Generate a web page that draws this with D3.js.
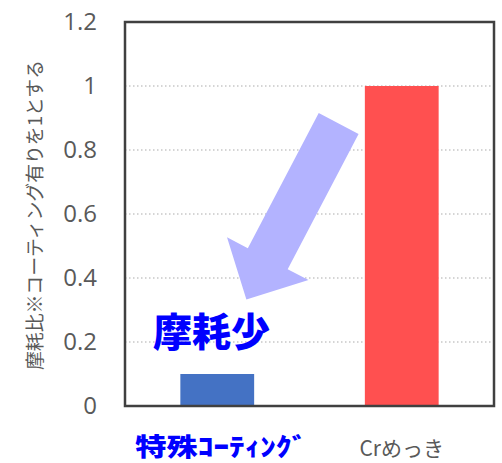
<!DOCTYPE html>
<html>
<head>
<meta charset="utf-8">
<script src="https://cdn.jsdelivr.net/npm/d3@7"></script>
<style>
  body { margin: 0; background: #fff; }
  svg { display: block; }
</style>
</head>
<body>
<main></main>
<script>
const width = 502;
const height = 463;
const margin = {top: 22, right: 8, bottom: 57, left: 125};

// data
const categories = ['特殊ｺｰﾃｨﾝｸﾞ', 'Crめっき'];
const values = [0.1, 1.0];
const barColors = ['#4472C4', '#FF5050'];
const yTicks = [0, 0.2, 0.4, 0.6, 0.8, 1, 1.2];
const yTitle = '摩耗比※コーティング有りを1とする';
const note = '摩耗少';

const jp = '"Noto Sans CJK JP", "Noto Sans", sans-serif';
const num = '"Open Sans", "Noto Sans", sans-serif';

const svg = d3.select('main').append('svg')
  .attr('width', width)
  .attr('height', height);

const x = d3.scaleBand()
  .domain(categories)
  .range([margin.left, width - margin.right])
  .paddingInner(0.6)
  .paddingOuter(0.3);

const y = d3.scaleLinear()
  .domain([0, 1.2])
  .range([height - margin.bottom, margin.top]);

// gridlines (dotted)
svg.append('g')
  .selectAll('line')
  .data(yTicks.filter(d => d > 0 && d < 1.2))
  .enter().append('line')
  .attr('x1', margin.left)
  .attr('x2', width - margin.right)
  .attr('y1', d => y(d))
  .attr('y2', d => y(d))
  .style('stroke', '#c8c8c8')
  .style('stroke-width', 1.5)
  .style('stroke-dasharray', '1.5,2.5');

// bars
svg.append('g')
  .selectAll('rect')
  .data(categories)
  .enter().append('rect')
  .attr('x', d => x(d))
  .attr('width', x.bandwidth())
  .attr('y', (d, i) => y(values[i]))
  .attr('height', (d, i) => y(0) - y(values[i]))
  .style('fill', (d, i) => barColors[i]);

// frame
svg.append('rect')
  .attr('x', margin.left)
  .attr('y', margin.top)
  .attr('width', width - margin.left - margin.right)
  .attr('height', height - margin.top - margin.bottom)
  .style('fill', 'none')
  .style('stroke', '#404040')
  .style('stroke-width', 2.5);

// y axis labels
const yAxis = d3.axisLeft(y)
  .tickValues(yTicks)
  .tickFormat(d => String(d))
  .tickSize(0)
  .tickPadding(28);

svg.append('g')
  .attr('transform', `translate(${margin.left},0)`)
  .call(yAxis)
  .call(g => g.select('.domain').remove())
  .call(g => g.selectAll('text')
    .style('font-family', num)
    .style('font-size', '24px')
    .style('fill', '#595959'));

// y title
svg.append('text')
  .attr('transform', `translate(33,${(y(0) + y(1.2)) / 2 + 1}) rotate(-90)`)
  .attr('text-anchor', 'middle')
  .attr('dominant-baseline', 'central')
  .style('font-family', jp)
  .style('font-size', '19px')
  .style('fill', '#595959')
  .attr('textLength', 310)
  .attr('lengthAdjust', 'spacingAndGlyphs')
  .text(yTitle);

// x labels
svg.append('g')
  .selectAll('text')
  .data(categories)
  .enter().append('text')
  .attr('x', (d, i) => x(d) + x.bandwidth() / 2 + (i === 0 ? 4 : 0))
  .attr('y', 456)
  .attr('text-anchor', 'middle')
  .style('font-family', jp)
  .style('font-size', (d, i) => i === 0 ? '25px' : '21px')
  .style('font-weight', (d, i) => i === 0 ? 900 : 400)
  .style('fill', (d, i) => i === 0 ? '#0000FF' : '#595959')
  .attr('textLength', (d, i) => i === 0 ? 172 : null)
  .attr('lengthAdjust', 'spacingAndGlyphs')
  .text(d => d);

// arrow annotation: from near the Cr bar down toward the coating bar
const fx = d3.scaleLinear().domain([0, 1]).range([margin.left, width - margin.right]);
const from = [fx(0.579), y(0.883)];
const to = [fx(0.329), y(0.333)];
const shaftW = 45, headW = 92, headL = 46;
const dx = to[0] - from[0], dy = to[1] - from[1];
const len = Math.hypot(dx, dy);
const ux = dx / len, uy = dy / len;
const px = -uy, py = ux;
const bx = to[0] - ux * headL, by = to[1] - uy * headL;
const pts = [
  [from[0] + px * shaftW / 2, from[1] + py * shaftW / 2],
  [bx + px * shaftW / 2, by + py * shaftW / 2],
  [bx + px * headW / 2, by + py * headW / 2],
  to,
  [bx - px * headW / 2, by - py * headW / 2],
  [bx - px * shaftW / 2, by - py * shaftW / 2],
  [from[0] - px * shaftW / 2, from[1] - py * shaftW / 2]
];
svg.append('path')
  .attr('d', d3.line()(pts) + 'Z')
  .style('fill', '#B3B3FF');

svg.append('text')
  .attr('x', 153)
  .attr('y', 329)
  .attr('dominant-baseline', 'central')
  .style('font-family', jp)
  .style('font-size', '39px')
  .style('font-weight', 900)
  .style('fill', '#0000FF')
  .text(note);
</script>
</body>
</html>
